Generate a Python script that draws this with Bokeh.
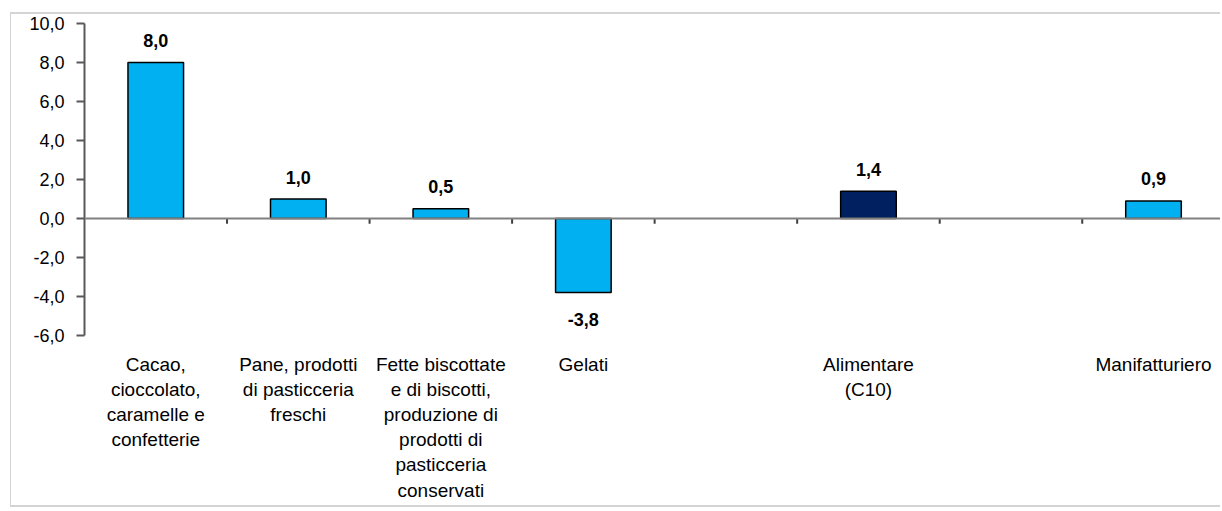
from bokeh.plotting import figure
from bokeh.models import (ColumnDataSource, Range1d, LinearAxis, FixedTicker, Span)
from bokeh.core.properties import value
from bokeh.embed import file_html
from bokeh.resources import INLINE

# Variazione percentuale per comparto (valori in %)
categories = [
    "Cacao,\ncioccolato,\ncaramelle e\nconfetterie",
    "Pane, prodotti\ndi pasticceria\nfreschi",
    "Fette biscottate\ne di biscotti,\nproduzione di\nprodotti di\npasticceria\nconservati",
    "Gelati",
    "",
    "Alimentare\n(C10)",
    "",
    "Manifatturiero",
]
values = [8.0, 1.0, 0.5, -3.8, None, 1.4, None, 0.9]
highlight = ["Alimentare\n(C10)"]
y_ticks = [-6, -4, -2, 0, 2, 4, 6, 8, 10]

LIGHT = "#00B0F0"
DARK = "#002060"
FONT = "Liberation Sans"

def fmt(v):
    return f"{v:.1f}".replace(".", ",")

xs, tops, cols, labels, label_off = [], [], [], [], []
for i, (c, v) in enumerate(zip(categories, values)):
    if v is None:
        continue
    xs.append(i + 0.5)
    tops.append(v)
    cols.append(DARK if c in highlight else LIGHT)
    labels.append(fmt(v))
    label_off.append(-22 if v >= 0 else 27)

src = ColumnDataSource(dict(x=xs, top=tops, color=cols, label=labels, off=label_off))

n_slots = len(categories)
p = figure(width=1210, height=495, output_backend="svg", toolbar_location=None,
           x_range=Range1d(0, 7.97), y_range=Range1d(y_ticks[0], y_ticks[-1]),
           x_axis_type=None, y_axis_type=None,
           min_border_left=73, min_border_right=1, min_border_top=9,
           min_border_bottom=174)
p.outline_line_color = None
p.grid.visible = False
p.background_fill_color = "white"
p.border_fill_color = "white"
p.styles = {"margin-left": "10px", "margin-top": "12px",
            "border-left": "1px solid #d4d4d4",
            "border-top": "2px solid #d4d4d4",
            "border-bottom": "2px solid #d4d4d4"}

# y axis with comma decimals
yaxis = LinearAxis(ticker=FixedTicker(ticks=y_ticks))
yaxis.major_label_overrides = {t: fmt(t) for t in y_ticks}
yaxis.axis_line_color = "#595959"
yaxis.axis_line_width = 2
yaxis.major_tick_line_color = "#595959"
yaxis.major_tick_line_width = 2
yaxis.major_tick_in = 0
yaxis.major_tick_out = 8
yaxis.minor_tick_line_color = None
yaxis.major_label_standoff = 12
yaxis.major_label_text_font = FONT
yaxis.major_label_text_font_size = "18px"
yaxis.major_label_text_color = "#000000"
p.add_layout(yaxis, "left")

# category names under the plot area
centers = [i + 0.5 for i in range(n_slots)]
xaxis = LinearAxis(ticker=FixedTicker(ticks=centers))
xaxis.major_label_overrides = {c: lab for c, lab in zip(centers, categories)}
xaxis.axis_line_color = None
xaxis.major_tick_line_color = None
xaxis.minor_tick_line_color = None
xaxis.major_tick_in = 0
xaxis.major_tick_out = 0
xaxis.major_label_standoff = 18
xaxis.major_label_text_font = FONT
xaxis.major_label_text_font_size = "19px"
xaxis.major_label_text_line_height = 1.2
xaxis.major_label_text_color = "#000000"
p.add_layout(xaxis, "below")

# zero line and category separators
p.add_layout(Span(location=0, dimension="width", line_color="#808080", line_width=2))
sep_x = list(range(1, n_slots))
p.segment(x0=sep_x, x1=sep_x, y0=[0] * len(sep_x), y1=[-0.27] * len(sep_x),
          line_color="#404040", line_width=2)

p.vbar(x="x", top="top", bottom=0, width=0.39, fill_color="color",
       line_color="#000000", line_width=1.5, source=src)

p.text(x="x", y="top", text="label", y_offset="off", source=src,
       text_align="center", text_baseline="middle",
       text_font=value(FONT), text_font_style="bold", text_font_size="18px",
       text_color="#000000")

open("out.html", "w").write(file_html(p, INLINE))
